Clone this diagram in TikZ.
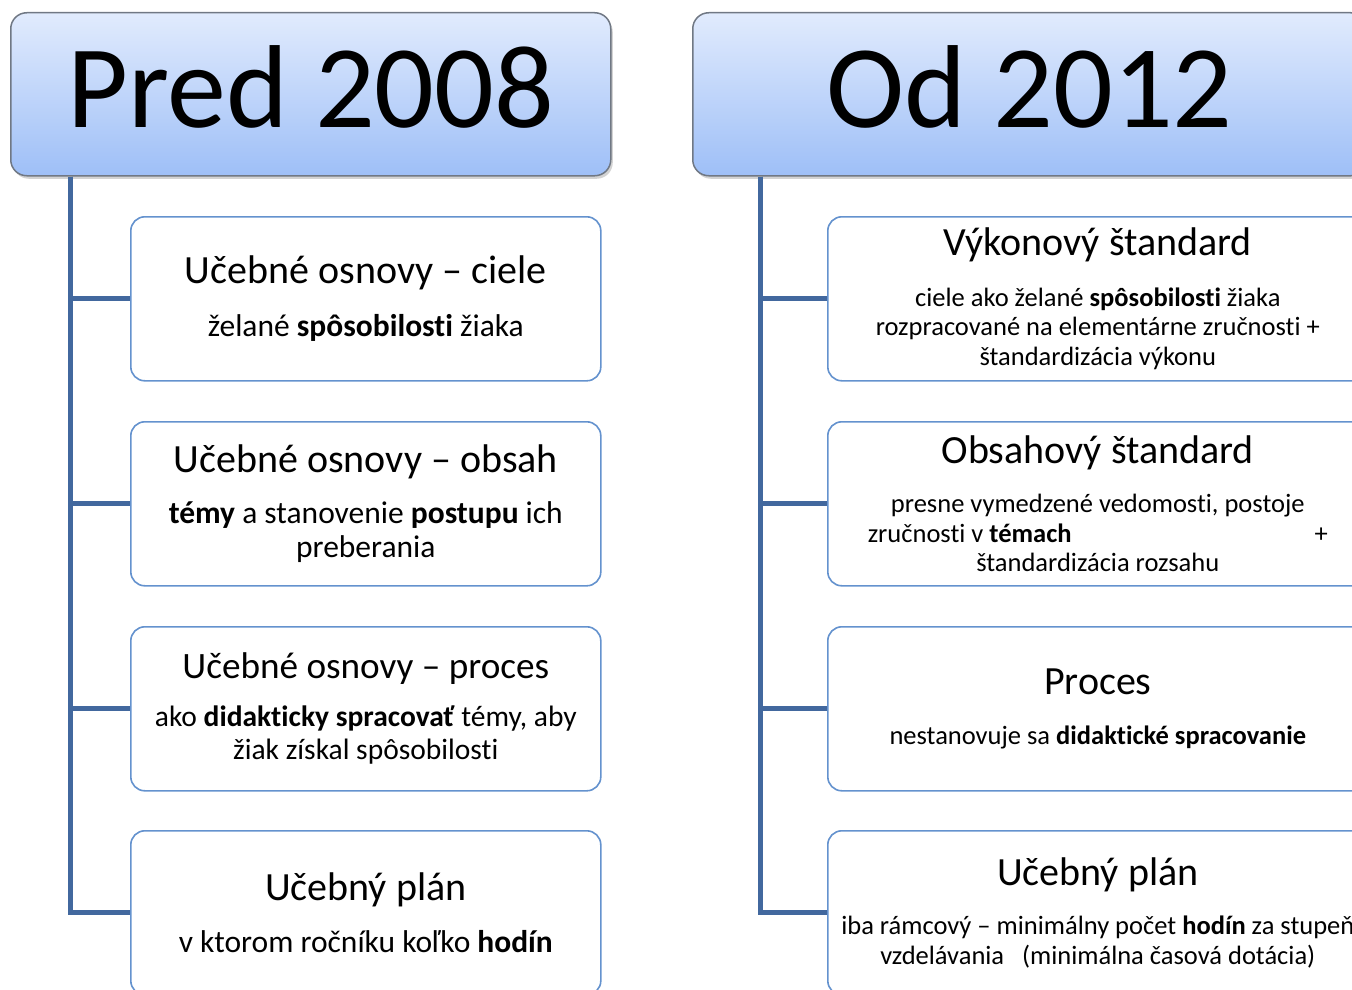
\documentclass[tikz,border=0pt]{standalone}
\usepackage{fontspec}
\setmainfont{Carlito}[Ligatures={NoCommon}]
\usetikzlibrary{shadows}
\definecolor{hdrtop}{RGB}{225,235,253}
\definecolor{hdrbot}{RGB}{158,191,247}
\definecolor{hdrline}{RGB}{112,120,132}
\definecolor{boxline}{RGB}{100,146,206}
\definecolor{spinecol}{RGB}{66,104,158}
\newcommand{\ttl}{\fontsize{40}{46}\selectfont}
\newcommand{\ttm}{\fontsize{37.2}{43}\selectfont}
\newcommand{\txt}{\fontsize{31.5}{34}\selectfont}
\newcommand{\txm}{\fontsize{29.5}{33}\selectfont}
\newcommand{\txs}{\fontsize{26.5}{29.5}\selectfont}

\begin{document}
\begin{tikzpicture}[x=1pt,
y=-1pt,
every node/.style={
rectangle,
align = center,
anchor=north west,
inner sep=0pt,
},
header/.style={
draw=hdrline,
line width=1.5pt,
rounded corners=16pt,
top color=hdrtop,
bottom color=hdrbot,
drop shadow={shadow xshift=2pt,shadow yshift=-3pt,opacity=0.35},
minimum height=163pt,
text depth=15pt,
font=\fontsize{118}{118}\selectfont,
},
box/.style={
draw=boxline,
line width=1.6pt,
rounded corners=14pt,
fill=white,
minimum height=164pt,
},
lbox/.style={box,minimum width=470pt,font=\txt},
rbox/.style={box,minimum width=540pt,font=\txs},
spine/.style={
draw=spinecol,
line width=5pt,
}]

\clip (0,0) rectangle (1352,990);

%Pred 2008 column
\node[header,minimum width=600pt] (pred) at (10,12) {Pred 2008};
\node[lbox] (l1) at (130,216) {{\ttl Učebné osnovy – ciele}\\[19pt]želané \textbf{spôsobilosti} žiaka};
\node[lbox] (l2) at (130,421) {{\ttl Učebné osnovy – obsah}\\[17pt]\textbf{témy} a stanovenie \textbf{postupu} ich\\preberania};
\node[lbox,font=\txm] (l3) at (130,626) {{\ttm Učebné osnovy – proces}\\[15pt]ako \textbf{didakticky spracovať} témy, aby\\žiak získal spôsobilosti};
\node[lbox] (l4) at (130,830) {{\ttl Učebný plán}\\[18pt]v ktorom ročníku koľko \textbf{hodín}};

%Od 2012 column
\node[header,minimum width=674pt] (od) at (692,12) {Od 2012};
\node[rbox] (r1) at (827,216) {{\ttl Výkonový štandard}\\[21pt]ciele ako želané \textbf{spôsobilosti} žiaka\\rozpracované na elementárne zručnosti +\\štandardizácia výkonu};
\node[rbox] (r2) at (827,421) {{\ttl Obsahový štandard}\\[20pt]presne vymedzené vedomosti, postoje\\zručnosti v \textbf{témach}\hspace{243pt}+\\štandardizácia rozsahu};
\node[rbox] (r3) at (827,626) {{\ttl Proces}\\[20pt]nestanovuje sa \textbf{didaktické spracovanie}};
\node[rbox] (r4) at (827,830) {{\ttl Učebný plán}\\[20pt]iba rámcový – minimálny počet \textbf{hodín} za stupeň\\vzdelávania \ \ (minimálna časová dotácia)};

%tree lines
\path (pred.south west) ++(60,0) coordinate (lroot);
\path (od.south west) ++(68,0) coordinate (rroot);
\foreach \b in {l1,l2,l3,l4} \draw[spine] (lroot) |- (\b.west);
\foreach \b in {r1,r2,r3,r4} \draw[spine] (rroot) |- (\b.west);
\end{tikzpicture}
\end{document}
